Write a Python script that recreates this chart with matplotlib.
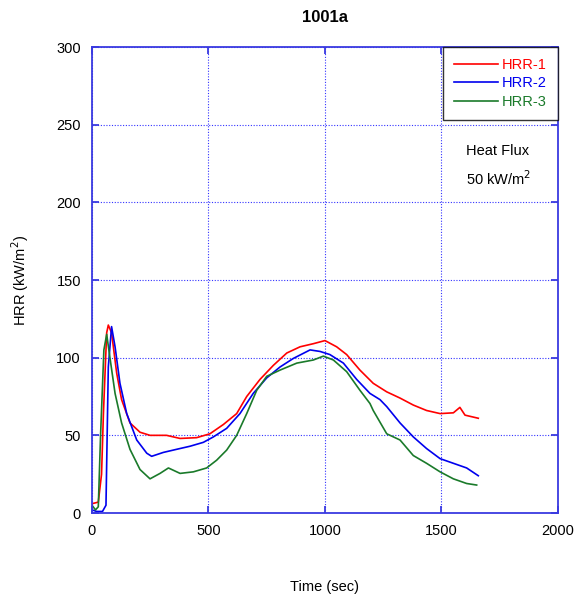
import matplotlib
matplotlib.use("Agg")
import matplotlib.pyplot as plt

plt.rcParams["font.family"] = ["Liberation Sans", "DejaVu Sans"]

# HRR-1 (red)
t1 = [0, 27, 41, 49, 63, 70, 84, 106, 127, 163, 206, 249, 320, 378, 449, 506, 564,
      621, 664, 721, 778, 836, 893, 950, 1000, 1050, 1093, 1150, 1207, 1265, 1322,
      1379, 1436, 1494, 1551, 1579, 1601, 1658]
hrr1 = [6, 7, 25, 64, 116, 121, 116, 90, 73, 58, 52, 50, 50, 48, 48.5, 51, 57,
        64, 75, 86, 95, 103, 107, 109, 111, 107, 102, 92, 83.5, 78, 74,
        69.5, 66, 64, 64.5, 68, 63, 61]

# HRR-2 (blue)
t2 = [0, 20, 45, 60, 70, 84, 99, 120, 149, 192, 235, 256, 306, 363, 421, 478, 521,
      578, 635, 692, 750, 807, 864, 936, 979, 1021, 1079, 1136, 1193, 1236, 1265,
      1322, 1379, 1436, 1494, 1551, 1608, 1658]
hrr2 = [2, 1, 1, 5, 94, 120, 107, 83.5, 64, 47, 38.5, 36.5, 39, 41, 43, 45.5, 49,
        54.5, 64, 77, 87, 94, 99.5, 105, 104, 102, 96.5, 86, 77, 73, 68.5,
        58, 49, 41.5, 35, 32, 29, 24]

# HRR-3 (green)
t3 = [0, 15, 27, 37, 51, 63, 77, 99, 127, 163, 206, 249, 292, 328, 378, 435, 492,
      535, 578, 621, 664, 707, 750, 807, 879, 950, 993, 1036, 1093, 1150, 1193,
      1207, 1265, 1322, 1379, 1436, 1494, 1551, 1608, 1651]
hrr3 = [5, 2, 4, 51, 105, 115, 100, 77, 58, 41, 28, 22, 25.5, 29, 25.5, 26.5, 29,
        34, 40.5, 50, 64, 79, 88, 92, 96.5, 98.5, 101, 98.5, 91, 79, 70.5,
        66, 51, 47, 37, 32, 26.5, 22, 19, 18]

xticks = [0, 500, 1000, 1500, 2000]
yticks = [0, 50, 100, 150, 200, 250, 300]

fig = plt.figure(figsize=(5.75, 5.95), dpi=100)
ax = fig.add_axes([0.16, 0.1378, 0.8104, 0.7832])

ax.plot(t1, hrr1, color="#ff0000", lw=1.2, label="HRR-1")
ax.plot(t2, hrr2, color="#0000ee", lw=1.2, label="HRR-2")
ax.plot(t3, hrr3, color="#1a7a2a", lw=1.2, label="HRR-3")

ax.set_xlim(0, 2000)
ax.set_ylim(0, 300)
ax.set_xticks(xticks)
ax.set_yticks(yticks)
ax.grid(True, color="#3333ff", linestyle=(0, (1, 1.5)), linewidth=0.8)
for s in ax.spines.values():
    s.set_color("#3a3ae0")
    s.set_linewidth(1.3)
ax.tick_params(direction="in", top=True, right=True, length=5, width=1.3,
               color="#3a3ae0", labelsize=10.5, pad=8)

ax.set_title("1001a", fontsize=12, fontweight="bold", pad=18)
ax.set_xlabel("Time (sec)", fontsize=10.5, labelpad=30)
ax.set_ylabel("HRR (kW/m$^2$)", fontsize=10.5, labelpad=18)

leg = ax.legend(loc="upper right", fontsize=10.5, frameon=True, fancybox=False,
                borderaxespad=0, labelcolor="linecolor", handlelength=3.0,
                handletextpad=0.3, borderpad=0.75, labelspacing=0.3)
leg.get_frame().set_edgecolor("black")
leg.get_frame().set_linewidth(1.0)

ax.text(1605, 233, "Heat Flux", fontsize=10.5, ha="left", va="center")
ax.text(1605, 215, "50 kW/m$^2$", fontsize=10.5, ha="left", va="center")

fig.savefig("out.png", dpi=100)
